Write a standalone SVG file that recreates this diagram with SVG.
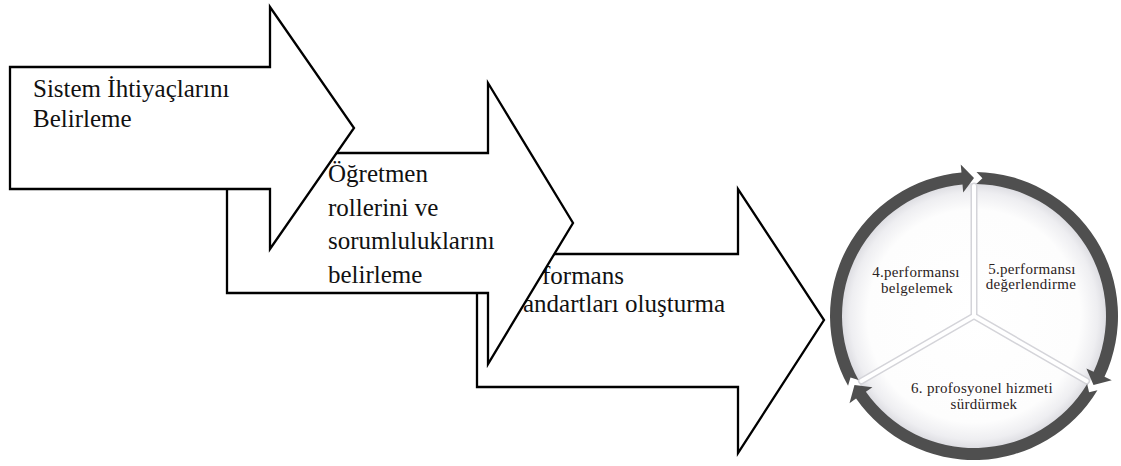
<svg xmlns="http://www.w3.org/2000/svg" width="1121" height="466" viewBox="0 0 1121 466">
  <style>
    .arrow { fill: #ffffff; stroke: #000000; stroke-width: 2.3; stroke-linejoin: miter; }
    .big { font-size: 25px; fill: #111111; }
    .small { font-size: 15px; fill: #2b2222; letter-spacing: 0.3px; text-anchor: middle; }
    .ring { fill: #4f4f4f; }
    .divider-shadow { stroke: #d4d4d9; stroke-width: 7; stroke-linecap: round; fill: none; }
    .divider { stroke: #ffffff; stroke-width: 4; stroke-linecap: round; fill: none; }
  </style>
  <defs>
    <radialGradient id="diskGrad" cx="974" cy="316" r="133" gradientUnits="userSpaceOnUse">
      <stop offset="0" stop-color="#ffffff"/>
      <stop offset="0.8" stop-color="#fdfdfd"/>
      <stop offset="0.93" stop-color="#eeeef1"/>
      <stop offset="1" stop-color="#dcdce1"/>
    </radialGradient>
  </defs>
  <rect x="0" y="0" width="1121" height="466" fill="#ffffff"/>

  <g font-family="'Liberation Serif', 'DejaVu Serif', serif">
  <g id="step3">
    <polygon class="arrow" points="477,254 738,254 738,189 824,320 738,453 738,387 477,387"/>
    <text class="big" x="542" y="284">formans</text>
    <text class="big" x="523" y="312">andartları oluşturma</text>
  </g>

  <g id="step2">
    <polygon class="arrow" points="227,153 488,153 488,83 573,223 488,364 488,293 227,293"/>
    <text class="big" x="328" y="182">Öğretmen</text>
    <text class="big" x="328" y="216">rollerini ve</text>
    <text class="big" x="328" y="249">sorumluluklarını</text>
    <text class="big" x="328" y="283">belirleme</text>
  </g>

  <g id="step1">
    <polygon class="arrow" points="10,67 270,67 270,7 354,128 270,249 270,189 10,189"/>
    <text class="big" x="33" y="97">Sistem İhtiyaçlarını</text>
    <text class="big" x="33" y="127">Belirleme</text>
  </g>

  <g id="cycle">
    <circle cx="974" cy="316" r="133" fill="url(#diskGrad)"/>
    <g id="dividers">
      <line class="divider-shadow" x1="974" y1="316" x2="974" y2="186"/>
      <line class="divider-shadow" x1="974" y1="316" x2="1086.6" y2="381"/>
      <line class="divider-shadow" x1="974" y1="316" x2="861.4" y2="381"/>
      <line class="divider" x1="974" y1="316" x2="974" y2="186"/>
      <line class="divider" x1="974" y1="316" x2="1086.6" y2="381"/>
      <line class="divider" x1="974" y1="316" x2="861.4" y2="381"/>
    </g>
    <g id="connectors">
      <path class="ring" d="M 848.06 385.81 A 144 144 0 0 1 961.45 172.55 L 960.75 164.58 L 974 178 L 963.19 192.47 L 962.50 184.50 A 132 132 0 0 0 858.55 379.99 L 850.50 377.58 Z"/>
      <path class="ring" d="M 976.51 172.02 A 144 144 0 0 1 1104.51 376.86 L 1111.76 380.24 L 1093.51 385 L 1086.38 368.40 L 1093.63 371.78 A 132 132 0 0 0 976.30 184.02 L 982.42 178.26 Z"/>
      <path class="ring" d="M 1097.43 390.16 A 144 144 0 0 1 856.04 398.60 L 849.49 403.19 L 854.49 385 L 872.42 387.13 L 865.87 391.72 A 132 132 0 0 0 1087.15 383.98 L 1089.08 392.16 Z"/>
    </g>
    <g id="node4">
      <text class="small" x="916" y="277">4.performansı</text>
      <text class="small" x="917" y="293">belgelemek</text>
    </g>
    <g id="node5">
      <text class="small" x="1032" y="274">5.performansı</text>
      <text class="small" x="1031" y="289">değerlendirme</text>
    </g>
    <g id="node6">
      <text class="small" x="982" y="393">6. profosyonel hizmeti</text>
      <text class="small" x="984" y="409">sürdürmek</text>
    </g>
  </g>
  </g>
</svg>
